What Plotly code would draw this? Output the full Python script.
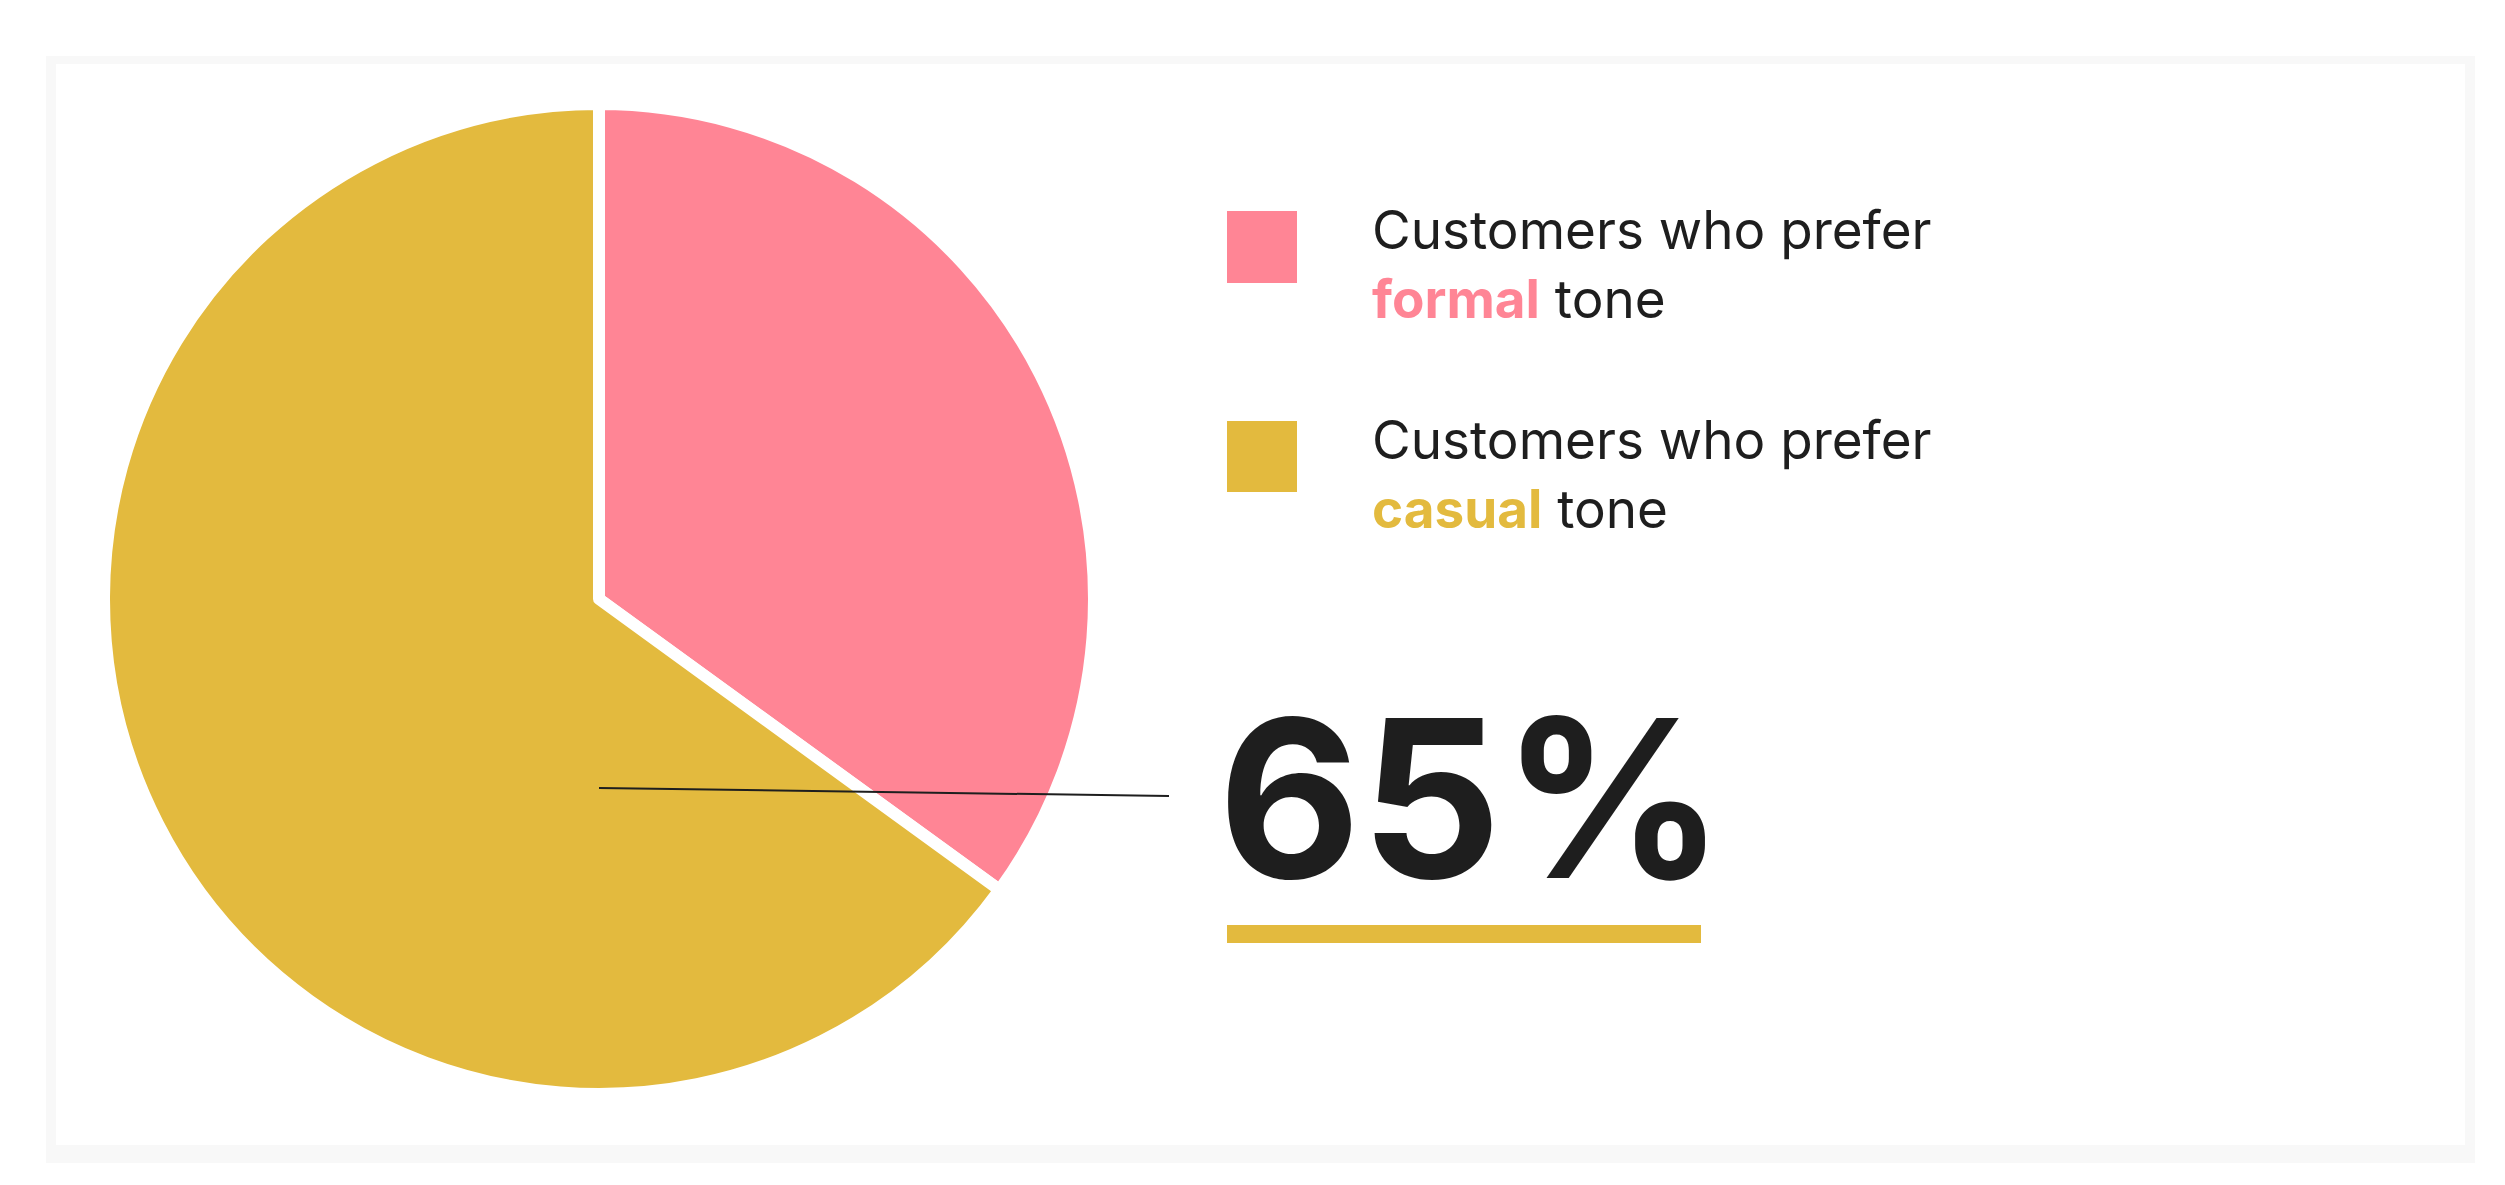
import plotly.graph_objects as go

labels = ["Customers who prefer formal tone", "Customers who prefer casual tone"]
values = [35, 65]
colors = ["#FF8595", "#E3BA3E"]
big_label = "65%"

W, H = 2505, 1185
def px(x): return x / W
def py(y): return 1 - y / H

cx, cy, r = 591, 591, 495
fig = go.Figure(go.Pie(
    labels=labels, values=values, sort=False, direction="clockwise",
    rotation=0, marker=dict(colors=colors, line=dict(color="white", width=12)),
    textinfo="none", hoverinfo="label+percent", showlegend=False,
    domain=dict(x=[px(cx - r), px(cx + r)], y=[py(cy + r), py(cy - r)]),
))

shapes = [
    dict(type="rect", xref="paper", yref="paper", x0=px(38), x1=px(2467), y0=py(1155), y1=py(48),
         fillcolor="#f8f8f8", line=dict(width=0), layer="below"),
    dict(type="rect", xref="paper", yref="paper", x0=px(48), x1=px(2457), y0=py(1137), y1=py(56),
         fillcolor="white", line=dict(width=0), layer="below"),
    dict(type="line", xref="paper", yref="paper", x0=px(591), y0=py(780), x1=px(1161), y1=py(788),
         line=dict(color="#1e1e1e", width=2)),
    dict(type="rect", xref="paper", yref="paper", x0=px(1219), x1=px(1693), y0=py(935), y1=py(917),
         fillcolor=colors[1], line=dict(width=0)),
]
for i, (y0, y1) in enumerate([(203, 275), (413, 484)]):
    shapes.append(dict(type="rect", xref="paper", yref="paper", x0=px(1219), x1=px(1289),
                       y0=py(y1), y1=py(y0), fillcolor=colors[i], line=dict(width=0)))

font = dict(family="Inter, Lato, sans-serif", size=53, color="#1e1e1e")
anns = [
    dict(text=f"Customers who prefer<br><b><span style='color:{colors[0]}'>formal</span></b> tone",
         x=px(1362), y=py(188), xanchor="left", yanchor="top", align="left"),
    dict(text=f"Customers who prefer<br><b><span style='color:{colors[1]}'>casual</span></b> tone",
         x=px(1362), y=py(398), xanchor="left", yanchor="top", align="left"),
]
for a in anns:
    a.update(xref="paper", yref="paper", showarrow=False, font=font)
anns.append(dict(text=f"<b>{big_label}</b>", xref="paper", yref="paper", x=px(1208), y=py(790),
                 xanchor="left", yanchor="middle", showarrow=False,
                 font=dict(family="Inter, Lato, sans-serif", size=220, color="#1e1e1e")))

fig.update_layout(width=W, height=H, margin=dict(l=0, r=0, t=0, b=0),
                  paper_bgcolor="white", shapes=shapes, annotations=anns)
fig.write_html("out.html")
